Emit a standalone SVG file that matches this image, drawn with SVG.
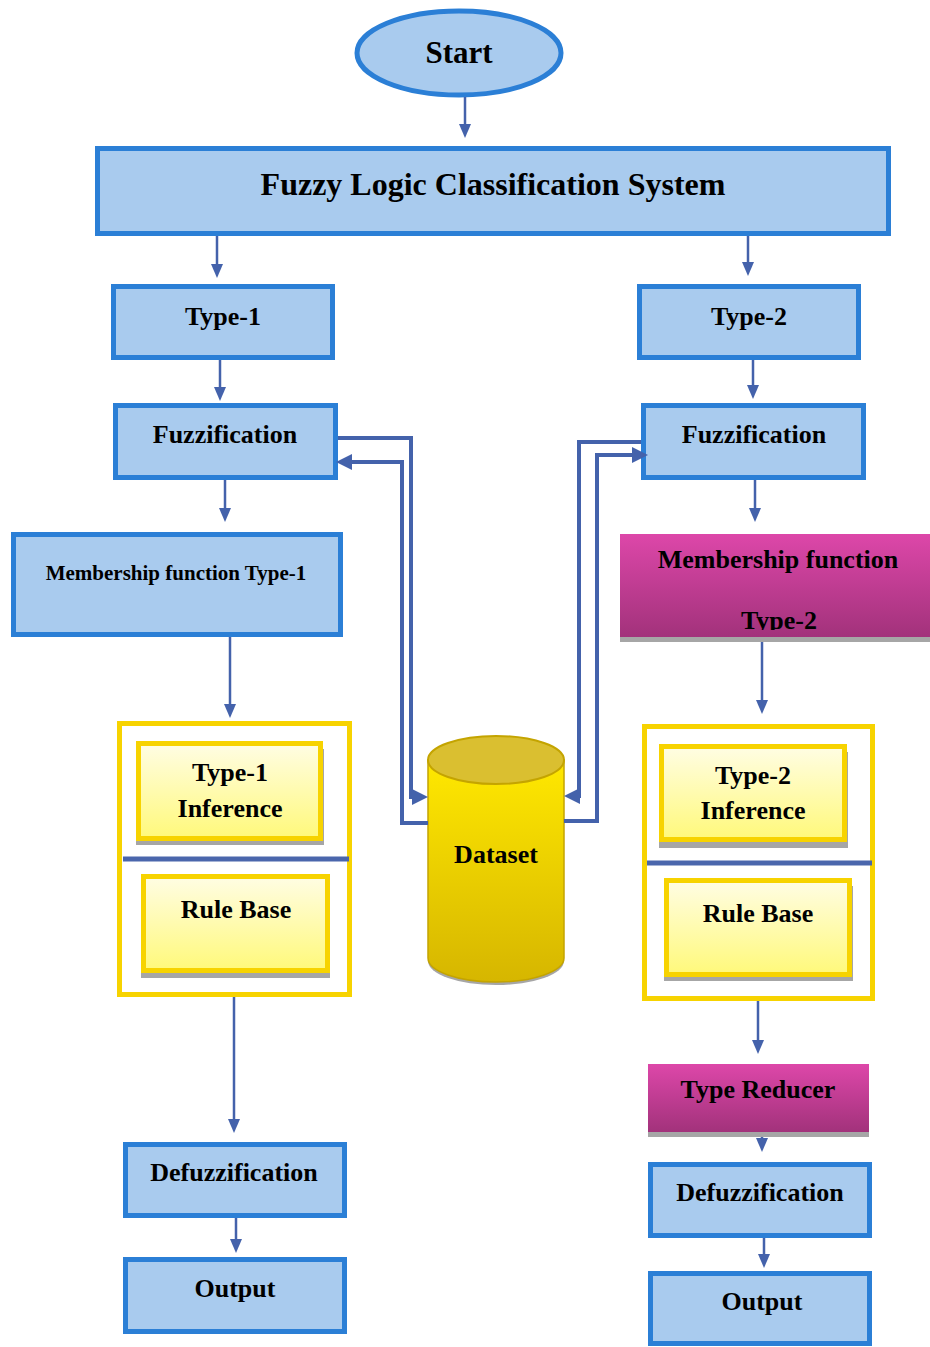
<svg xmlns="http://www.w3.org/2000/svg" width="930" height="1347" viewBox="0 0 930 1347">
<style>
.blue{fill:#a9cbee;stroke:#2b7fd6;stroke-width:5}
.cont{fill:#ffffff;stroke:#f7d300;stroke-width:5}
.yel{fill:url(#gy);stroke:#f7d300;stroke-width:5}
.shadow{fill:#a6a6a6}
.mag{fill:url(#gm)}
.t{font-family:"Liberation Serif","Times New Roman",serif;font-weight:bold;font-size:26px;fill:#000;text-anchor:middle}
.arr{fill:none;stroke:#4462ab;stroke-width:2.5;marker-end:url(#ah)}
.conn{fill:none;stroke:#4462ab;stroke-width:4;marker-end:url(#ahb)}
.div{stroke:#4a66ac;stroke-width:5}
</style>
<defs>
<linearGradient id="gy" x1="0" y1="0" x2="0" y2="1"><stop offset="0" stop-color="#fffde4"/><stop offset="1" stop-color="#fff97a"/></linearGradient>
<linearGradient id="gm" x1="0" y1="0" x2="0" y2="1"><stop offset="0" stop-color="#dd47a9"/><stop offset="1" stop-color="#a2327b"/></linearGradient>
<linearGradient id="gc" x1="0" y1="0" x2="0" y2="1"><stop offset="0" stop-color="#ffe800"/><stop offset="1" stop-color="#d6b600"/></linearGradient>
<marker id="ah" viewBox="0 0 14 12" refX="4" refY="6" markerWidth="14" markerHeight="12" markerUnits="userSpaceOnUse" orient="auto"><path d="M0,0 L14,6 L0,12 z" fill="#4462ab"/></marker>
<marker id="ahb" viewBox="0 0 16 16" refX="5" refY="8" markerWidth="16" markerHeight="16" markerUnits="userSpaceOnUse" orient="auto"><path d="M0,0 L16,8 L0,16 z" fill="#4462ab"/></marker>
<clipPath id="clipT2"><rect x="620" y="534" width="310" height="96"/></clipPath>
</defs>

<g id="start">
<ellipse cx="459" cy="53" rx="102" ry="42" class="blue"/>
<text x="459" y="63" class="t" style="font-size:31px">Start</text>
</g>

<g id="fuzzy-system">
<rect x="97.5" y="148.5" width="791" height="85" class="blue"/>
<text x="493" y="195" class="t" style="font-size:32px">Fuzzy Logic Classification System</text>
</g>

<g id="type1">
<rect x="113.5" y="286.5" width="219" height="71" class="blue"/>
<text x="223" y="325" class="t">Type-1</text>
</g>
<g id="type2">
<rect x="639.5" y="286.5" width="219" height="71" class="blue"/>
<text x="749" y="325" class="t">Type-2</text>
</g>

<g id="fuzzification1">
<rect x="115.5" y="405.5" width="220" height="72" class="blue"/>
<text x="225" y="443" class="t">Fuzzification</text>
</g>
<g id="fuzzification2">
<rect x="643.5" y="405.5" width="220" height="72" class="blue"/>
<text x="754" y="443" class="t">Fuzzification</text>
</g>

<g id="membership1">
<rect x="13.5" y="534.5" width="327" height="100" class="blue"/>
<text x="176" y="580" class="t" style="font-size:21px">Membership function Type-1</text>
</g>
<g id="membership2">
<rect x="620" y="637" width="310" height="5" class="shadow"/>
<rect x="620" y="534" width="310" height="103" class="mag"/>
<text x="778" y="568" class="t">Membership function</text>
<text x="779" y="629" class="t" clip-path="url(#clipT2)">Type-2</text>
</g>

<g id="inference1-block">
<rect x="119.5" y="723.5" width="230" height="271" class="cont"/>
<line x1="123" y1="859" x2="349" y2="859" class="div"/>
</g>
<g id="type1-inference">
<rect x="136" y="749" width="188" height="96" class="shadow"/>
<rect x="138.5" y="743.5" width="182" height="95" class="yel"/>
<text x="230" y="781" class="t">Type-1</text>
<text x="230" y="817" class="t">Inference</text>
</g>
<g id="rulebase1">
<rect x="141" y="882" width="189" height="96" class="shadow"/>
<rect x="143.5" y="876.5" width="184" height="94" class="yel"/>
<text x="236" y="918" class="t">Rule Base</text>
</g>

<g id="inference2-block">
<rect x="644.5" y="726.5" width="228" height="272" class="cont"/>
<line x1="647" y1="863" x2="872" y2="863" class="div"/>
</g>
<g id="type2-inference">
<rect x="659" y="752" width="189" height="96" class="shadow"/>
<rect x="661.5" y="746.5" width="183" height="93" class="yel"/>
<text x="753" y="784" class="t">Type-2</text>
<text x="753" y="819" class="t">Inference</text>
</g>
<g id="rulebase2">
<rect x="664" y="886" width="189" height="95" class="shadow"/>
<rect x="666.5" y="880.5" width="183" height="94" class="yel"/>
<text x="758" y="922" class="t">Rule Base</text>
</g>

<g id="dataset">
<path d="M428,763 L428,961 A68,24 0 0 0 564,961 L564,763 Z" fill="#a6a6a6"/>
<path d="M428,760 L428,958 A68,24 0 0 0 564,958 L564,760 Z" fill="url(#gc)" stroke="#c4a400" stroke-width="1.5"/>
<ellipse cx="496" cy="760" rx="68" ry="24" fill="#dabf30" stroke="#c4a400" stroke-width="2"/>
<text x="496" y="863" class="t">Dataset</text>
</g>

<g id="type-reducer">
<rect x="648" y="1132" width="221" height="5" class="shadow"/>
<rect x="648" y="1064" width="221" height="68" class="mag"/>
<text x="758" y="1098" class="t">Type Reducer</text>
</g>

<g id="defuzzification1">
<rect x="125.5" y="1144.5" width="219" height="71" class="blue"/>
<text x="234" y="1181" class="t">Defuzzification</text>
</g>
<g id="output1">
<rect x="125.5" y="1259.5" width="219" height="72" class="blue"/>
<text x="235" y="1297" class="t">Output</text>
</g>
<g id="defuzzification2">
<rect x="650.5" y="1164.5" width="219" height="71" class="blue"/>
<text x="760" y="1201" class="t">Defuzzification</text>
</g>
<g id="output2">
<rect x="650.5" y="1273.5" width="219" height="70" class="blue"/>
<text x="762" y="1310" class="t">Output</text>
</g>

<g id="connectors">
<path d="M465,97 V128" class="arr"/>
<path d="M217,236 V268" class="arr"/>
<path d="M748,236 V266" class="arr"/>
<path d="M220,360 V391" class="arr"/>
<path d="M753,360 V389" class="arr"/>
<path d="M225,480 V512" class="arr"/>
<path d="M755,480 V512" class="arr"/>
<path d="M230,637 V708" class="arr"/>
<path d="M762,642 V704" class="arr"/>
<path d="M234,997 V1123" class="arr"/>
<path d="M758,1001 V1044" class="arr"/>
<path d="M762,1137 V1142" class="arr"/>
<path d="M236,1218 V1243" class="arr"/>
<path d="M764,1238 V1258" class="arr"/>
<path d="M338,438 H411 V797 H417" class="conn"/>
<path d="M428,823 H402 V462 H347" class="conn"/>
<path d="M641,442 H579 V796 H575" class="conn"/>
<path d="M564,821 H597 V455 H637" class="conn"/>
</g>
</svg>
